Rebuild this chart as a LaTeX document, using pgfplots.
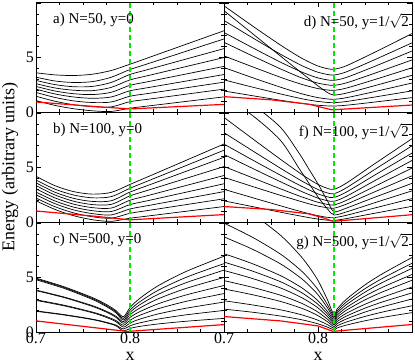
\documentclass[border=0pt]{standalone}
\usepackage{fontspec}
\setmainfont{Liberation Serif}
\usepackage{pgfplots}
\usepackage{pgfplotstable}
\pgfplotsset{compat=1.18}
\usepgfplotslibrary{groupplots}

\definecolor{grn}{RGB}{0,235,0}

% panel a) N=50, y=0
\pgfplotstableread{
x    c1   c2   c3   c4   c5   c6   c7   c8   c9
0.70 1.05 1.45 1.80 2.10 2.35 2.60 2.90 3.20 3.60
0.72 0.61 0.99 1.34 1.66 1.93 2.21 2.52 2.85 3.41
0.74 0.30 0.67 1.02 1.38 1.68 2.00 2.32 2.71 3.35
0.76 0.11 0.49 0.87 1.26 1.60 1.96 2.35 2.79 3.47
0.78 0.05 0.47 0.92 1.38 1.81 2.26 2.71 3.19 3.81
0.80 0.35 0.95 1.45 1.95 2.45 2.95 3.45 3.90 4.39
0.82 0.56 1.18 1.71 2.25 2.80 3.36 3.92 4.46 5.00
0.90 1.39 2.10 2.74 3.44 4.19 5.00 5.82 6.71 7.46
}\tA
% panel b) N=100, y=0
\pgfplotstableread{
x    c1   c2   c3   c4   c5   c6   c7   c8   c9
0.70 1.95 2.20 2.50 2.75 3.05 3.35 3.60 3.85 4.20
0.72 1.16 1.41 1.69 1.94 2.22 2.49 2.74 3.02 3.34
0.74 0.58 0.84 1.11 1.37 1.64 1.91 2.17 2.48 2.79
0.76 0.21 0.48 0.77 1.04 1.32 1.60 1.89 2.22 2.56
0.78 0.06 0.35 0.65 0.96 1.28 1.62 1.95 2.33 2.72
0.80 0.35 0.80 1.20 1.60 2.00 2.40 2.75 3.10 3.45
0.82 0.56 1.07 1.52 1.98 2.45 2.94 3.39 3.80 4.19
0.90 1.42 2.13 2.79 3.51 4.27 5.09 5.94 6.59 7.16
}\tB
% panel c) N=500, y=0
\pgfplotstableread{
x     c1   c2   c3   c4   c5   c6   c7   c8   c9
0.70  1.90 1.94 2.90 2.96 3.80 3.85 4.80 4.88 4.95
0.73  1.56 1.60 2.40 2.46 3.16 3.21 4.00 4.08 4.15
0.76  1.14 1.18 1.77 1.83 2.35 2.42 2.99 3.08 3.16
0.775 0.84 0.89 1.34 1.42 1.82 1.90 2.33 2.42 2.52
0.785 0.57 0.63 0.95 1.05 1.35 1.45 1.76 1.87 1.97
0.793 0.10 0.28 0.45 0.62 0.80 0.95 1.10 1.25 1.40
0.80  0.33 0.57 0.83 1.08 1.34 1.58 1.80 2.01 2.24
0.81  0.51 0.83 1.17 1.52 1.85 2.18 2.48 2.75 3.06
0.83  0.74 1.19 1.66 2.14 2.59 3.05 3.46 3.83 4.25
0.86  0.99 1.58 2.19 2.82 3.41 4.01 4.54 5.03 5.57
0.90  1.25 1.98 2.75 3.53 4.27 5.01 5.68 6.28 6.96
}\tC
% panel d) N=50, y=1/sqrt2
\pgfplotstableread{
x     c1   c2   c3   c4   c5   c6   c7   c8   c9
0.70  1.93 2.95 4.08 9.30 5.15 6.40 7.30 8.40 9.75
0.73  1.50 2.29 3.16 7.22 4.16 5.16 5.92 6.83 7.92
0.76  1.08 1.66 2.28 5.14 3.19 3.96 4.58 5.31 6.15
0.78  0.82 1.27 1.74 3.76 2.61 3.22 3.77 4.38 5.07
0.79  0.71 1.10 1.51 3.08 2.36 2.91 3.42 3.98 4.61
0.80  0.62 0.97 1.32 2.40 2.15 2.65 3.13 3.65 4.22
0.81  0.56 0.88 1.20 1.79 2.02 2.49 2.95 3.45 3.98
0.817 0.55 0.86 1.17 1.56 1.99 2.45 2.91 3.40 3.93
0.83  0.62 0.96 1.31 1.73 2.19 2.67 3.17 3.68 4.24
0.86  0.91 1.37 1.87 2.41 2.97 3.55 4.18 4.79 5.47
0.90  1.32 1.94 2.66 3.37 4.06 4.78 5.60 6.35 7.20
}\tD
% panel f) N=100, y=1/sqrt2
\pgfplotstableread{
x     c1   c2   c3   c4   c5   c6   c7   c8   c9   c10
0.70  1.94 3.00 11.5 12.3 4.10 5.10 6.20 7.15 8.20 9.60
0.73  1.42 2.24 9.80 10.8 3.27 4.07 4.94 5.71 6.56 7.67
0.76  0.90 1.49 7.50 8.70 2.45 3.05 3.70 4.30 4.94 5.76
0.78  0.57 1.00 4.90 6.30 1.93 2.39 2.90 3.39 3.90 4.53
0.79  0.41 0.78 3.60 4.90 1.68 2.09 2.53 2.97 3.42 3.96
0.80  0.27 0.58 2.30 3.50 1.46 1.81 2.19 2.58 2.98 3.45
0.81  0.17 0.43 1.20 1.95 1.31 1.62 1.96 2.31 2.67 3.09
0.817 0.15 0.40 0.65 0.96 1.27 1.57 1.90 2.25 2.60 3.00
0.83  0.31 0.61 0.92 1.27 1.63 1.98 2.35 2.74 3.13 3.56
0.86  0.80 1.28 1.76 2.26 2.76 3.26 3.78 4.29 4.80 5.33
0.90  1.44 2.15 2.86 3.55 4.24 4.95 5.65 6.33 7.00 7.65
}\tF
% panel g) N=500, y=1/sqrt2
\pgfplotstableread{
x     c1   c2   c3   c4   c5   c6   c7   c8   c9   c10
0.70  2.10 2.87 3.95 4.72 5.65 6.42 7.19 8.73 10.0 12.5
0.73  1.82 2.49 3.43 4.11 4.92 5.60 6.28 7.61 8.71 10.86
0.76  1.47 2.04 2.81 3.38 4.05 4.62 5.18 6.26 7.16 8.89
0.78  1.17 1.64 2.26 2.73 3.27 3.74 4.21 5.07 5.79 7.13
0.79  0.98 1.38 1.92 2.32 2.79 3.19 3.60 4.32 4.93 6.04
0.80  0.75 1.08 1.50 1.83 2.21 2.54 2.87 3.42 3.89 4.73
0.81  0.45 0.68 0.95 1.18 1.43 1.66 1.89 2.22 2.52 2.97
0.817 0.20 0.35 0.50 0.65 0.80 0.95 1.10 1.25 1.40 1.55
0.82  0.36 0.55 0.75 0.94 1.13 1.32 1.51 1.70 1.88 2.07
0.83  0.63 0.91 1.19 1.45 1.71 1.99 2.24 2.50 2.74 2.99
0.85  1.03 1.43 1.83 2.19 2.55 2.95 3.30 3.66 3.98 4.33
0.87  1.36 1.86 2.35 2.80 3.23 3.73 4.16 4.61 4.99 5.42
0.90  1.78 2.41 3.03 3.59 4.13 4.75 5.28 5.84 6.31 6.84
}\tG

\pgfplotsset{
  blk/.style={black, line width=0.7pt, smooth, mark=none},
  rd/.style={red, line width=1.2pt, mark=none},
  gd/.style={grn, line width=1.2pt, dash pattern=on 5pt off 3pt, mark=none},
}
\tikzset{plab/.style={inner sep=0pt, font=\fontsize{15}{15}\selectfont}}

\begin{document}
\begin{tikzpicture}
\begin{groupplot}[
  group style={group size=2 by 3, horizontal sep=0pt, vertical sep=0pt},
  width=188pt, height=110pt, scale only axis,
  xmin=0.7, xmax=0.9, ymin=0, ymax=10.1,
  xtick={0.7,0.8,0.9}, ytick={0,5,10},
  minor xtick={0.725,0.75,0.775,0.825,0.85,0.875},
  minor ytick={1,2,3,4,6,7,8,9},
  xticklabels={}, yticklabels={},
  tick align=inside,
  major tick length=5pt, minor tick length=3pt,
  axis line style={line width=0.9pt},
  tick style={line width=0.8pt, black},
  ticklabel style={font=\fontsize{16}{16}\selectfont},
  xticklabel style={inner sep=1pt},
  yticklabel style={inner sep=2pt},
]
\nextgroupplot[yticklabels={0,5,{}}]
\pgfplotsinvokeforeach{1,...,9}{\addplot[blk] table[x=x,y=c#1]{\tA};}
\addplot[rd] coordinates {(0.70,0.92) (0.76,0.52) (0.80,0.28) (0.90,0.70)};
\addplot[gd] coordinates {(0.8,0) (0.8,10.1)};
\node[plab, anchor=north west] at (rel axis cs:0.09,0.9) {a) N=50, y=0};

\nextgroupplot
\pgfplotsinvokeforeach{1,...,9}{\addplot[blk] table[x=x,y=c#1]{\tD};}
\addplot[rd] coordinates {(0.70,1.41) (0.75,1.12) (0.79,0.72) (0.805,0.40) (0.815,0.20) (0.90,0.64)};
\addplot[gd] coordinates {(0.817,0) (0.817,10.1)};
\node[plab, anchor=north east] at (rel axis cs:0.985,0.9) {d) N=50, y=1/$\sqrt{\mbox{2}}$};
\coordinate (TR) at (rel axis cs:1,1);

\nextgroupplot[yticklabels={0,5,{}}]
\pgfplotsinvokeforeach{1,...,9}{\addplot[blk] table[x=x,y=c#1]{\tB};}
\addplot[rd] coordinates {(0.70,1.01) (0.76,0.55) (0.80,0.20) (0.90,0.68)};
\addplot[gd] coordinates {(0.8,0) (0.8,10.1)};
\node[plab, anchor=north west] at (rel axis cs:0.09,0.9) {b) N=100, y=0};
\coordinate (ML) at (rel axis cs:0,0.5);

\nextgroupplot
\pgfplotsinvokeforeach{1,...,10}{\addplot[blk] table[x=x,y=c#1]{\tF};}
\addplot[rd] coordinates {(0.70,1.42) (0.75,1.15) (0.79,0.75) (0.805,0.40) (0.816,0.06) (0.90,0.67)};
\addplot[gd] coordinates {(0.817,0) (0.817,10.1)};
\node[plab, anchor=north east] at (rel axis cs:0.985,0.9) {f) N=100, y=1/$\sqrt{\mbox{2}}$};

\nextgroupplot[xticklabels={0.7,0.8,{}}, yticklabels={0,5,{}}]
\pgfplotsinvokeforeach{1,...,9}{\addplot[blk] table[x=x,y=c#1]{\tC};}
\addplot[rd] coordinates {(0.70,1.02) (0.797,0.05) (0.90,0.68)};
\addplot[gd] coordinates {(0.8,0) (0.8,10.1)};
\node[plab, anchor=north west] at (rel axis cs:0.09,0.9) {c) N=500, y=0};
\coordinate (BL) at (rel axis cs:0,0);
\coordinate (XB1) at (rel axis cs:0.5,0);

\nextgroupplot[xticklabels={0.7,0.8,{}}]
\pgfplotsinvokeforeach{1,...,10}{\addplot[blk] table[x=x,y=c#1]{\tG};}
\addplot[rd] coordinates {(0.70,1.42) (0.76,1.02) (0.80,0.56) (0.816,0.06) (0.90,0.69)};
\addplot[gd] coordinates {(0.817,0) (0.817,10.1)};
\node[plab, anchor=north east] at (rel axis cs:0.985,0.9) {g) N=500, y=1/$\sqrt{\mbox{2}}$};
\coordinate (XB2) at (rel axis cs:0.5,0);
\end{groupplot}
\node[rotate=90, font=\fontsize{18}{18}\selectfont] at ([xshift=-26pt]ML) {Energy (arbitrary units)};
\node[anchor=base, inner sep=0pt, font=\fontsize{18}{18}\selectfont] at ([yshift=-28pt]XB1) {x};
\node[anchor=base, inner sep=0pt, font=\fontsize{18}{18}\selectfont] at ([yshift=-28pt]XB2) {x};
\pgfresetboundingbox
\path[use as bounding box] ([xshift=-36pt,yshift=-31pt]BL) rectangle ([xshift=3pt,yshift=2pt]TR);
\end{tikzpicture}
\end{document}
